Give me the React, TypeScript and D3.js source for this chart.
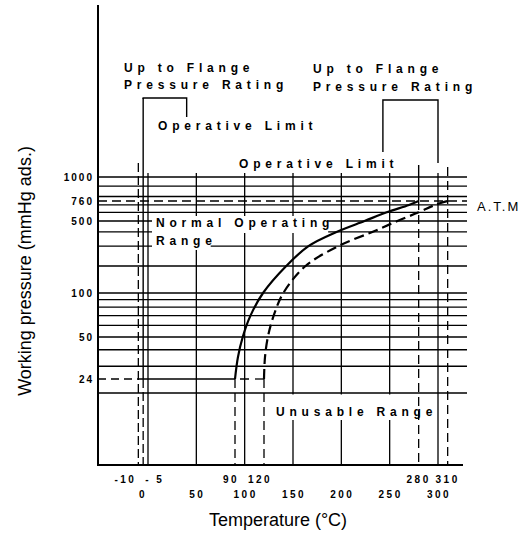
import React, { useRef, useEffect } from "react";
import * as d3 from "d3";

// pressure grid lines (mmHg abs.) and the labelled ones
const gridPressures = [1000, 900, 800, 700, 600, 500, 400, 300, 200, 100, 90, 80, 70, 60, 50, 40, 30, 20];
const pressureTicks = [1000, 760, 500, 100, 50, 24];

// temperature grid (°C) and the limit marks
const gridTemps = [0, 50, 100, 150, 200, 250, 300];
const limitTemps = [-10, -5, 90, 120, 280, 310];

const atmPressure = 760;
const floorPressure = 24;

// normal operating boundary (solid line)
const solidTemps = [90, 93, 98, 106, 119, 143, 166, 195, 224, 247, 270, 280];
const solidPressures = [24, 35, 50, 70, 100, 200, 300, 400, 500, 600, 700, 760];

// operative limit boundary (dashed line)
const dashedTemps = [120, 121, 124, 130, 140, 163, 197, 232, 258, 280, 297, 310];
const dashedPressures = [24, 35, 50, 70, 100, 200, 300, 400, 500, 600, 700, 760];

// "up to flange pressure rating" brackets, °C
const leftBracket = [-5, 40];
const rightBracket = [243, 300];

export default function App() {
    const svgRef = useRef<SVGSVGElement>(null);

    useEffect(() => {
        const w = 528;
        const h = 534;
        const left = 98;     // y axis
        const right = 467;   // end of the horizontal grid
        const axisY = 465;   // x axis
        const font = "'Liberation Sans', Arial, Helvetica, sans-serif";

        const x = d3.scaleLinear().domain([0, 300]).range([148, 438]);
        // the printed pressure scale is only roughly logarithmic, so pin it on its labels
        const y = d3.scaleLog()
            .domain([20, 24, 50, 100, 200, 500, 760, 1000])
            .range([393, 379, 337, 293, 266, 221, 201, 177]);
        const gridTop = y(1000) - 4;

        const svg = d3.select(svgRef.current);
        svg.selectAll("*").remove();
        svg.attr("width", w).attr("height", h).style("background", "#fff");

        const seg = (x1: number, y1: number, x2: number, y2: number, dash: string | null = null, sw = 1.3) =>
            svg.append("line")
                .attr("x1", x1).attr("y1", y1).attr("x2", x2).attr("y2", y2)
                .attr("stroke", "#000").attr("stroke-width", sw)
                .attr("stroke-dasharray", dash);

        // grid
        gridPressures.forEach(p => seg(left, y(p), right, y(p)));
        gridTemps.forEach(t => seg(x(t), gridTop, x(t), axisY));

        // annotation text, optionally knocking the grid out behind it
        const note = (str: string, tx: number, ty: number, mask?: { top?: number; bottom?: number }) => {
            const t = svg.append("text")
                .attr("x", tx).attr("y", ty).text(str)
                .attr("font-family", font).attr("font-size", 12).attr("font-weight", "bold")
                .style("letter-spacing", "4.8px");
            if (mask) {
                const b = (t.node() as SVGTextElement).getBBox();
                const top = mask.top ?? b.y;
                const bottom = b.y + b.height + (mask.bottom ?? 2);
                svg.insert("rect", () => t.node())
                    .attr("x", b.x - 4).attr("y", top)
                    .attr("width", b.width - 2).attr("height", bottom - top)
                    .attr("fill", "#fff");
            }
        };

        note("Up to Flange", 124, 72);
        note("Pressure Rating", 124, 89);
        note("Up to Flange", 313, 73);
        note("Pressure Rating", 313, 91);
        note("Operative Limit", 158, 130);
        note("Operative Limit", 239, 168);
        note("Normal Operating", 156, 227, { bottom: 3 });
        note("Range", 156, 245, { top: 232.5 });
        note("Unusable Range", 276, 416, { top: y(20) + 1.5, bottom: 1 });

        // atmospheric line and the 24 mmHg floor
        seg(left, y(atmPressure), right, y(atmPressure), "9,5");
        seg(left, y(floorPressure), x(-5), y(floorPressure), "8,5");
        seg(x(-5), y(floorPressure), x(90), y(floorPressure), null, 1.6);
        seg(x(120), y(floorPressure), x(90), y(floorPressure), "9,6");

        // limit verticals
        limitTemps.forEach(t => {
            const xt = x(t);
            if (t === -10) seg(xt, 163, xt, axisY, "9,4");
            else if (t === -5) {
                seg(xt, 98, xt, y(floorPressure), null, 1.4);
                seg(xt, y(floorPressure), xt, axisY, "9,4");
            } else if (t === 280) {
                seg(xt, 165, xt, y(atmPressure), null, 1.4);
                seg(xt, y(atmPressure), xt, axisY, "9,5");
            } else if (t === 310) seg(xt, 167, xt, axisY, "9,5");
            else seg(xt, y(floorPressure), xt, axisY, "9,5");
        });

        // brackets
        const bracket = (t0: number, t1: number, top: number, end0: number, end1: number) => {
            const p = d3.path();
            p.moveTo(x(t0), end0);
            p.lineTo(x(t0), top);
            p.lineTo(x(t1), top);
            p.lineTo(x(t1), end1);
            svg.append("path").attr("d", p.toString())
                .attr("fill", "none").attr("stroke", "#000").attr("stroke-width", 1.4);
        };
        bracket(leftBracket[0], leftBracket[1], 98, 99, 117);
        bracket(rightBracket[0], rightBracket[1], 100, 152, 163);

        // curves
        const drawCurve = (temps: number[], pressures: number[], dash: string | null) => {
            const pts: [number, number][] = temps.map((t, i) => [x(t), y(pressures[i])]);
            const gen = d3.line().curve(d3.curveCatmullRom.alpha(0.5));
            svg.append("path").attr("d", gen(pts))
                .attr("fill", "none").attr("stroke", "#000").attr("stroke-width", 2.2)
                .attr("stroke-dasharray", dash);
        };
        drawCurve(solidTemps, solidPressures, null);
        drawCurve(dashedTemps, dashedPressures, "10,5");

        // axes
        seg(left, 5, left, axisY + 1, null, 2);
        seg(left - 1, axisY, 463, axisY, null, 2.2);

        // y tick labels
        svg.append("g").selectAll("text").data(pressureTicks).join("text")
            .attr("x", 94).attr("y", d => y(d)).attr("dy", "0.35em")
            .attr("text-anchor", "end")
            .attr("font-family", font).attr("font-size", 10).attr("font-weight", "bold")
            .style("letter-spacing", "2px")
            .text(d => d);

        // x tick labels, two rows
        svg.append("g").selectAll("text").data(limitTemps).join("text")
            .attr("x", d => x(d) + (d === -10 ? -2 : d === -5 ? 2 : d < 200 ? -4 : 0))
            .attr("y", 483)
            .attr("text-anchor", d => (d === -10 ? "end" : d === -5 ? "start" : "middle"))
            .attr("font-family", font).attr("font-size", 10).attr("font-weight", "bold")
            .style("letter-spacing", "2.5px")
            .text(d => (d === -5 ? "- 5" : d));
        svg.append("g").selectAll("text").data(gridTemps).join("text")
            .attr("x", d => x(d) + (d === 0 ? -5 : 1))
            .attr("y", 498)
            .attr("text-anchor", "middle")
            .attr("font-family", font).attr("font-size", 10).attr("font-weight", "bold")
            .style("letter-spacing", "2.5px")
            .text(d => d);

        // titles
        svg.append("text")
            .attr("x", 278).attr("y", 526).attr("text-anchor", "middle")
            .attr("font-family", font).attr("font-size", 18)
            .text("Temperature (°C)");
        svg.append("text")
            .attr("transform", "translate(31,271) rotate(-90)")
            .attr("text-anchor", "middle")
            .attr("font-family", font).attr("font-size", 18)
            .text("Working pressure (mmHg ads.)");
        svg.append("text")
            .attr("x", 477).attr("y", 211)
            .attr("font-family", font).attr("font-size", 13)
            .style("letter-spacing", "2px")
            .text("A.T.M");
    }, []);

    return (
        <div className="Chart" style={{ position: "absolute", left: 0, top: 0 }}>
            <svg ref={svgRef} style={{ display: "block" }}></svg>
        </div>
    );
}
